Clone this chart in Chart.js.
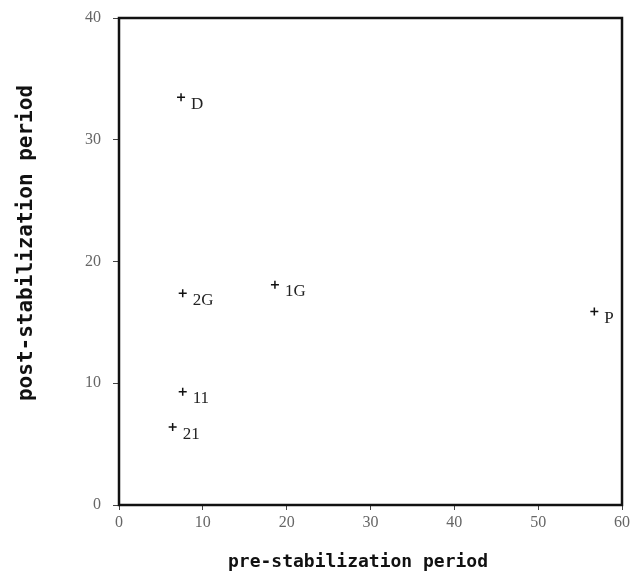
<!DOCTYPE html>
<html><head><meta charset="utf-8">
<script src="https://cdn.jsdelivr.net/npm/chart.js@4/dist/chart.umd.min.js"></script>
<style>html,body{margin:0;padding:0;background:#fff}canvas{display:block}</style>
</head><body>
<canvas id="c" width="638" height="583"></canvas>
<script>
const pointLabels = ["D", "2G", "1G", "P", "11", "21"];
const preValues = [7.4, 7.6, 18.6, 56.7, 7.6, 6.4];
const postValues = [33.5, 17.4, 18.1, 15.9, 9.3, 6.4];
const xTicks = [0, 10, 20, 30, 40, 50, 60];
const yTicks = [0, 10, 20, 30, 40];
const xTitle = 'pre-stabilization period';
const yTitle = 'post-stabilization period';

const labelPlugin = {
  id: 'ptLabels',
  afterDatasetsDraw(chart) {
    const ctx = chart.ctx;
    const meta = chart.getDatasetMeta(0);
    ctx.save();
    ctx.fillStyle = '#222';
    ctx.font = '17px "Liberation Serif", serif';
    ctx.textBaseline = 'middle';
    meta.data.forEach((el, i) => {
      ctx.fillText(pointLabels[i], el.x + 10, el.y + 7);
    });
    ctx.restore();
  }
};
const framePlugin = {
  id: 'frame',
  afterDraw(chart) {
    const a = chart.chartArea, ctx = chart.ctx;
    ctx.save();
    ctx.strokeStyle = '#111';
    ctx.lineWidth = 2.5;
    ctx.strokeRect(a.left, a.top, a.right - a.left, a.bottom - a.top);
    ctx.fillStyle = '#111';
    ctx.textAlign = 'center';
    ctx.textBaseline = 'middle';
    // x-axis title
    ctx.font = 'bold 18px "DejaVu Sans Mono", monospace';
    ctx.fillText(xTitle, 358, 562);
    // y-axis title
    ctx.translate(27, 243);
    ctx.rotate(-Math.PI / 2);
    ctx.font = 'bold 21px "DejaVu Sans Mono", monospace';
    ctx.fillText(yTitle, 0, 0);
    ctx.restore();
  }
};

new Chart(document.getElementById('c'), {
  type: 'scatter',
  data: {
    datasets: [{
      data: preValues.map((x, i) => ({x: x, y: postValues[i]})),
      pointStyle: 'cross',
      radius: 4,
      borderColor: '#111',
      backgroundColor: '#111',
      borderWidth: 1.5
    }]
  },
  options: {
    responsive: false,
    animation: false,
    layout: {padding: {top: 18, right: 16, left: 0, bottom: 0}},
    plugins: {legend: {display: false}, tooltip: {enabled: false}},
    scales: {
      x: {
        type: 'linear', min: 0, max: 60,
        afterBuildTicks: s => { s.ticks = xTicks.map(v => ({value: v})); },
        afterFit: s => { s.height = 78; s.paddingLeft = 0; s.paddingRight = 0; },
        grid: {drawOnChartArea: false, tickLength: 5, color: '#444', lineWidth: 1},
        border: {display: false},
        ticks: {color: '#666', font: {family: '"Liberation Serif", serif', size: 16}, padding: 3, maxRotation: 0},
        title: {display: false}
      },
      y: {
        type: 'linear', min: 0, max: 40,
        afterBuildTicks: s => { s.ticks = yTicks.map(v => ({value: v})); },
        afterFit: s => { s.width = 119; s.paddingTop = 0; s.paddingBottom = 0; },
        grid: {drawOnChartArea: false, tickLength: 6, color: '#444', lineWidth: 1},
        border: {display: false},
        ticks: {color: '#666', font: {family: '"Liberation Serif", serif', size: 16}, padding: 12},
        title: {display: false}
      }
    }
  },
  plugins: [labelPlugin, framePlugin]
});
</script>
</body></html>
